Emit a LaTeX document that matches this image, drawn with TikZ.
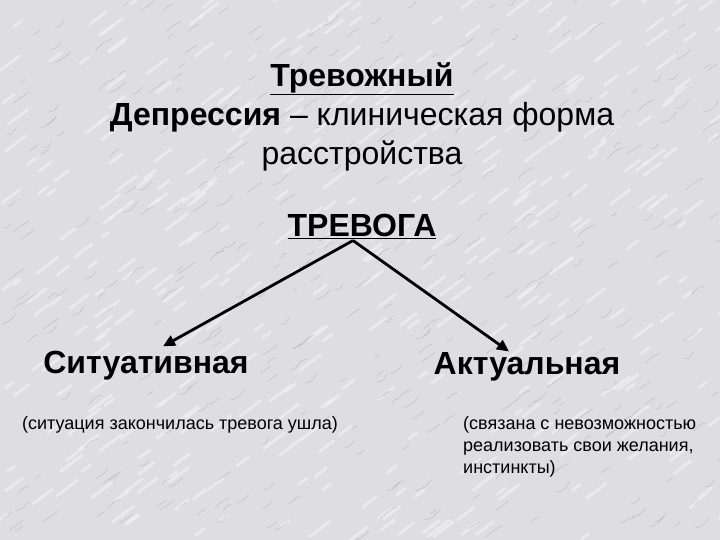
\documentclass[tikz,border=0pt]{standalone}
\usepackage{fontspec}
\setmainfont{Liberation Sans}
\usetikzlibrary{arrows.meta,calc}
\definecolor{marble}{RGB}{222,222,224}
\definecolor{vein}{RGB}{170,170,174}
\definecolor{light}{RGB}{242,242,244}
\begin{document}
\begin{tikzpicture}[x=1pt,y=-1pt,
  big/.style={font=\fontsize{32}{39}\selectfont, inner sep=0pt, text=black},
  small/.style={font=\fontsize{18}{22}\selectfont, inner sep=0pt, text=black},
  conn/.style={line width=2.8pt, -{Triangle[length=12pt,width=11pt]}}]
\fill[marble] (0,0) rectangle (720,540);
\useasboundingbox (0,0) rectangle (720,540);
\pgfmathsetseed{7}
\foreach \i in {1,...,400}{
  \pgfmathsetmacro{\px}{rnd*720}
  \pgfmathsetmacro{\py}{rnd*540}
  \pgfmathsetmacro{\ln}{6+rnd*16}
  \draw[light, line width=3pt, line cap=round, opacity=0.6] (\px,\py) -- ++(\ln,-0.75*\ln);
}
\foreach \i in {1,...,380}{
  \pgfmathsetmacro{\px}{rnd*720}
  \pgfmathsetmacro{\py}{rnd*540}
  \pgfmathsetmacro{\ln}{5+rnd*12}
  \pgfmathsetmacro{\bn}{rnd*8-4}
  \draw[vein, line width=0.5pt, opacity=0.6] (\px,\py) .. controls ++(0.5*\ln,{-0.3*\ln+\bn}) .. ++(\ln,-0.7*\ln);
}
\node[big, align=center] (title) at (362,117)
  {\underline{\textbf{Тревожный}}\\\textbf{Депрессия} – клиническая форма\\расстройства};
\node[big] (trev) at (362,226) {\underline{\textbf{ТРЕВОГА}}};
\node[big] (sit) at (146,366) {\textbf{Ситуативная}};
\node[big] (akt) at (527,367) {\textbf{Актуальная}};
\node[small] (sitd) at (180,425) {(ситуация закончилась тревога ушла)};
\node[small, align=left, anchor=north west] (aktd) at (463,416)
  {(связана с невозможностью\\реализовать свои желания,\\инстинкты)};
\coordinate (top) at ($(trev.south)+(-9,2)$);
\coordinate (endl) at ($(sit.north)+(17,-5)$);
\coordinate (endr) at ($(akt.north)+(-18,-1)$);
\draw[conn] (top) -- (endl);
\draw[conn] (top) -- (endr);
\end{tikzpicture}
\end{document}
